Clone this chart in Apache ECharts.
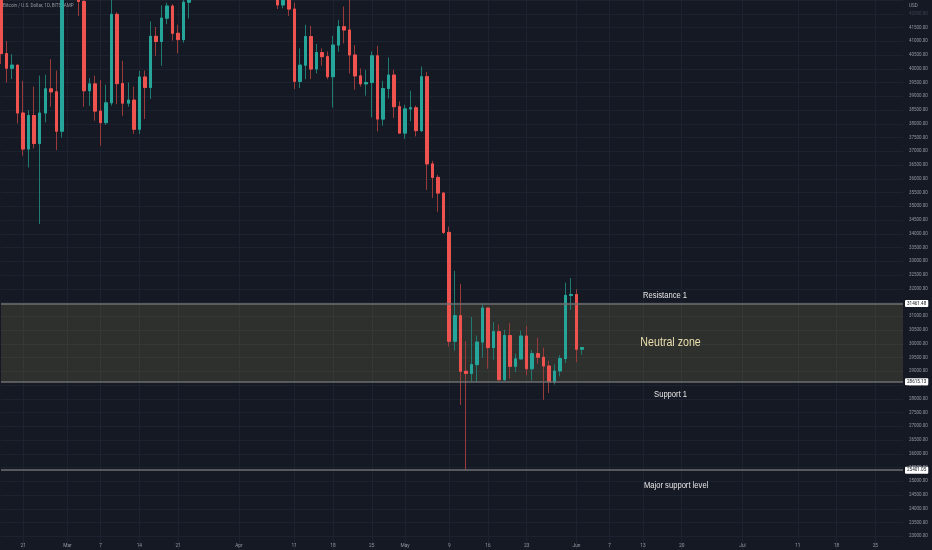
<!DOCTYPE html>
<html>
<head>
<meta charset="utf-8">
<script src="https://cdn.jsdelivr.net/npm/echarts@6/dist/echarts.min.js"></script>
<style>
html,body{margin:0;padding:0;background:#151924;}
#chart{width:932px;height:550px;}
</style>
</head>
<body>
<div id="chart"></div>
<script>
// ---- Data (BTC/USD daily, Bitstamp, 2022) ----
const dates = ['2022-02-17','2022-02-18','2022-02-19','2022-02-20','2022-02-21','2022-02-22','2022-02-23','2022-02-24','2022-02-25','2022-02-26','2022-02-27','2022-02-28',
'2022-03-01','2022-03-02','2022-03-03','2022-03-04','2022-03-05','2022-03-06','2022-03-07','2022-03-08','2022-03-09','2022-03-10','2022-03-11','2022-03-12','2022-03-13','2022-03-14','2022-03-15','2022-03-16','2022-03-17','2022-03-18','2022-03-19','2022-03-20','2022-03-21','2022-03-22','2022-03-23','2022-03-24','2022-03-25','2022-03-26','2022-03-27','2022-03-28','2022-03-29','2022-03-30','2022-03-31',
'2022-04-01','2022-04-02','2022-04-03','2022-04-04','2022-04-05','2022-04-06','2022-04-07','2022-04-08','2022-04-09','2022-04-10','2022-04-11','2022-04-12','2022-04-13','2022-04-14','2022-04-15','2022-04-16','2022-04-17','2022-04-18','2022-04-19','2022-04-20','2022-04-21','2022-04-22','2022-04-23','2022-04-24','2022-04-25','2022-04-26','2022-04-27','2022-04-28','2022-04-29','2022-04-30',
'2022-05-01','2022-05-02','2022-05-03','2022-05-04','2022-05-05','2022-05-06','2022-05-07','2022-05-08','2022-05-09','2022-05-10','2022-05-11','2022-05-12','2022-05-13','2022-05-14','2022-05-15','2022-05-16','2022-05-17','2022-05-18','2022-05-19','2022-05-20','2022-05-21','2022-05-22','2022-05-23','2022-05-24','2022-05-25','2022-05-26','2022-05-27','2022-05-28','2022-05-29','2022-05-30','2022-05-31',
'2022-06-01','2022-06-02'];

const open = [43880,40550,40020,40130,38390,37080,38300,37280,38390,39270,39160,37730,
43190,44420,43920,42450,39200,39450,38460,38040,38760,41980,39460,38750,38860,37800,39700,39320,41180,40990,41840,42280,41290,41060,42420,42900,43960,44350,44520,46820,47130,47450,47060,
45530,46280,45860,46450,46620,45550,43200,43450,42320,42760,42170,39540,40130,41170,39990,40590,40440,39710,40860,41530,41410,40500,39740,39450,39500,40470,38170,39280,39770,38620,
37660,38540,38580,37750,39710,36540,36050,35480,34050,30090,31020,29000,28920,29240,30060,31300,29860,30440,28690,30300,29180,29450,30280,29090,29640,29510,29190,28610,29010,29460,31760,
31790,29800];

const high = [44200,41010,40530,40150,39560,38500,39350,39750,39780,40350,39930,44000,
44950,45400,44100,42520,39660,39750,39590,39420,42590,42050,40290,39500,39350,39930,39930,41720,41520,42300,42400,42350,41600,43350,43000,44200,45100,44800,46900,48200,48100,47700,47600,
46700,47200,47450,46900,47200,45550,43900,43950,42800,43450,42400,40740,41600,41560,40900,40740,40630,41200,41780,42260,42970,40860,40010,39960,40630,40830,39560,40410,39960,38810,
38690,39200,38660,40080,39890,36650,36140,35500,34260,32650,32180,30100,30970,30300,31450,31310,30790,30700,30510,30750,29640,30480,30640,29780,30220,29860,29390,29250,29580,32220,32390,
31980,29860];

const low = [40170,39500,39630,38010,36840,36410,37100,34350,38050,38620,37040,37500,
42850,43350,41920,38620,38650,38110,37200,37960,38660,38710,38290,38620,37630,37630,38170,38900,40470,40110,41620,41020,40560,40950,41830,42600,43600,44100,44400,46650,46950,46600,45200,
44250,45650,45550,45150,45400,43100,42750,42170,42200,41920,39260,39300,39620,39620,39830,40110,39620,38590,40620,40920,39830,39240,39350,39020,38230,37720,37930,38920,38210,37640,
37450,38090,37540,37700,35590,35300,34800,33990,29900,29750,27770,25401.05,28630,28600,29490,29090,29420,28670,28650,28730,28970,29430,28850,28670,29270,27960,28210,28520,28810,29300,31240,
29330,29600];

const close = [40550,40020,40130,38390,37080,38300,37280,38390,39270,39160,37730,43190,
44420,43920,42450,39200,39450,38460,38040,38760,41980,39460,38750,38860,37800,39700,39320,41180,40990,41840,42280,41290,41060,42420,42900,43960,44350,44520,46820,47130,47450,47060,45530,
46280,45860,46450,46620,45550,43200,43450,42320,42760,42170,39540,40130,41170,39990,40590,40440,39710,40860,41530,41410,40500,39740,39450,39500,40470,38170,39280,39770,38620,37660,
38540,38580,37750,39710,36540,36050,35480,34050,30090,31020,29000,28920,29240,30060,31300,29860,30440,28690,30300,29180,29450,30280,29090,29640,29510,29190,28610,29010,29460,31760,31790,
29800,29860];

// Horizontal levels drawn on the chart
const resistance1 = 31461.48;
const support1 = 28615.13;
const majorSupport = 25401.05;

// Time axis tick labels
const tickDates = ['2022-02-21','2022-03-01','2022-03-07','2022-03-14','2022-03-21','2022-04-01','2022-04-11','2022-04-18','2022-04-25','2022-05-01','2022-05-09','2022-05-16','2022-05-23','2022-06-01','2022-06-07','2022-06-13','2022-06-20','2022-07-01','2022-07-11','2022-07-18','2022-07-25'];
const tickLabels = ['21','Mar','7','14','21','Apr','11','18','25','May','9','16','23','Jun','7','13','20','Jul','11','18','25'];

// Text annotations: [text, category position (fractional index), price]
const annotations = [
  ['Resistance 1', 119.8, 31767],
  ['Neutral zone', 120.7, 30061],
  ['Support 1', 121.0, 28173],
  ['Major support level', 122.1, 24834]
];

// ---- Build the category axis (extends past the data to the right edge) ----
const axisDates = [];
{
  const start = new Date(Date.UTC(2022, 1, 17));
  for (let i = 0; i < 164; i++) {
    const d = new Date(start.getTime() + i * 86400000);
    axisDates.push(d.toISOString().slice(0, 10));
  }
}

const UP = '#26a69a', DOWN = '#ef5350';
const UP_WICK = '#1f7a72', DOWN_WICK = '#9a3a3b';

const wickData = dates.map((d, i) => [open[i], close[i], low[i], high[i]]);
const bodyData = dates.map((d, i) => [open[i], close[i], Math.min(open[i], close[i]), Math.max(open[i], close[i])]);

const chart = echarts.init(document.getElementById('chart'), null, { renderer: 'canvas' });

const levelLine = (v) => ({
  yAxis: v,
  lineStyle: { color: '#6e6f70', width: 1.6, type: 'solid' },
  label: {
    show: true, position: 'end', formatter: v.toFixed(2),
    color: '#131722', backgroundColor: '#ffffff', fontSize: 4.6,
    fontFamily: 'Roboto, sans-serif',
    padding: [1, 2, 1, 2], distance: 2, borderRadius: 1
  }
});

chart.setOption({
  backgroundColor: '#151924',
  animation: false,
  grid: { left: 1, right: 29, top: -1, bottom: 0, containLabel: false },
  xAxis: {
    type: 'category',
    data: axisDates,
    boundaryGap: false,
    axisLine: { show: false },
    axisTick: { show: false },
    axisLabel: {
      inside: true, margin: 2,
      color: '#9598a1', fontSize: 4.8, fontFamily: 'Roboto, sans-serif',
      interval: (idx, val) => tickDates.indexOf(val) >= 0,
      formatter: (val) => { const k = tickDates.indexOf(val); return k >= 0 ? tickLabels[k] : ''; },
      hideOverlap: false
    },
    splitLine: {
      show: true,
      interval: (idx, val) => tickDates.indexOf(val) >= 0,
      lineStyle: { color: '#1d2230', width: 1 }
    }
  },
  yAxis: {
    type: 'value',
    position: 'right',
    min: 22500, max: 42500, interval: 500,
    scale: true,
    axisLine: { show: false },
    axisTick: { show: false },
    axisLabel: {
      inside: false, margin: 6, align: 'left',
      color: '#9598a1', fontSize: 4.5, fontFamily: 'Roboto, sans-serif',
      formatter: (v) => {
        if (v === 22500 || v === 42500) return '';
        if (v === 42000) return '{dim|' + v.toFixed(2) + '}';
        return v.toFixed(2);
      },
      rich: { dim: { color: '#3e4250', fontSize: 4.5, fontFamily: 'Roboto, sans-serif' } }
    },
    splitLine: { show: true, lineStyle: { color: '#1d2230', width: 1 } }
  },
  series: [
    {
      name: 'wicks',
      type: 'candlestick',
      data: wickData,
      barWidth: 3,
      clip: true,
      itemStyle: { color: UP_WICK, color0: DOWN_WICK, borderColor: UP_WICK, borderColor0: DOWN_WICK, borderWidth: 1 },
      markArea: {
        silent: true,
        itemStyle: { color: 'rgba(255, 235, 120, 0.11)' },
        data: [[{ yAxis: resistance1 }, { yAxis: support1 }]]
      },
      markLine: {
        silent: true,
        symbol: ['none', 'none'],
        data: [levelLine(resistance1), levelLine(support1), levelLine(majorSupport)]
      },
      z: 2
    },
    {
      name: 'bodies',
      type: 'candlestick',
      data: bodyData,
      barWidth: 3,
      clip: true,
      itemStyle: { color: UP, color0: DOWN, borderColor: UP, borderColor0: DOWN, borderWidth: 1 },
      z: 3
    }
  ]
});

// Annotations positioned through the chart's own scales
const graphics = [
  { type: 'text', left: 3, top: 3, style: { text: 'Bitcoin / U.S. Dollar, 1D, BITSTAMP', fill: '#9598a1', font: '4.6px Roboto, sans-serif' } },
  { type: 'text', left: 909, top: 3, style: { text: 'USD', fill: '#9598a1', font: '4.6px Roboto, sans-serif' } }
];
annotations.forEach(([txt, xi, price]) => {
  const p = chart.convertToPixel({ gridIndex: 0 }, [xi, price]);
  const big = txt === 'Neutral zone';
  graphics.push({
    type: 'text', x: p[0], y: p[1], z: 10, scaleX: 0.82,
    style: {
      text: txt, align: 'center', verticalAlign: 'middle',
      fill: big ? '#eadfae' : '#e6e6e6',
      font: (big ? '13px' : '9.3px') + ' "Liberation Sans", Arial, sans-serif'
    }
  });
});
chart.setOption({ graphic: graphics });
</script>
</body>
</html>
